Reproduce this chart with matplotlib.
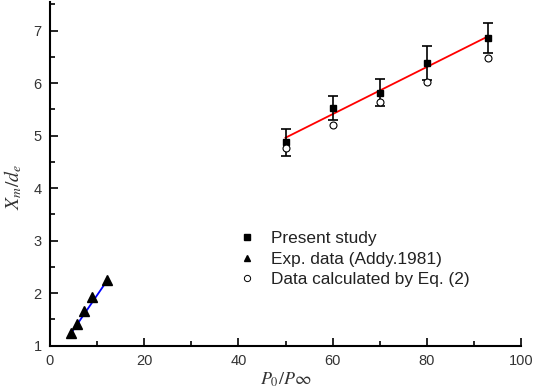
import matplotlib
matplotlib.use("Agg")
import matplotlib.pyplot as plt
from matplotlib.ticker import MultipleLocator
from matplotlib.lines import Line2D

plt.rcParams['font.family'] = ['Liberation Sans', 'DejaVu Sans']
plt.rcParams['mathtext.fontset'] = 'stix'

# Present study
ps_x = [50, 60, 70, 80, 93]
ps_y = [4.87, 5.53, 5.82, 6.38, 6.86]
ps_err = [0.26, 0.23, 0.265, 0.32, 0.28]
# Data calculated by Eq. (2)
eq_x = [50, 60, 70, 80, 93]
eq_y = [4.77, 5.21, 5.64, 6.02, 6.48]
# Exp. data (Addy, 1981)
exp_x = [4.5, 5.8, 7.2, 9.0, 12.2]
exp_y = [1.24, 1.41, 1.66, 1.93, 2.25]
# fit lines
red_x = [50, 93]
red_y = [4.96, 6.89]
blue_x = [4.5, 12.2]
blue_y = [1.24, 2.25]
labels = ['Present study', 'Exp. data (Addy.1981)', 'Data calculated by Eq. (2)']

fig = plt.figure(figsize=(5.33, 3.89), dpi=100)
ax = fig.add_axes([50/533, 43.3/389, 471/533, 344/389])

ax.plot(red_x, red_y, color='red', lw=1.3, zorder=2)
ax.plot(blue_x, blue_y, color='blue', lw=1.3, zorder=2)
ax.errorbar(ps_x, ps_y, yerr=ps_err, fmt='s', color='black', ms=5,
            capsize=3.4, elinewidth=1.2, capthick=1.2, zorder=3)
ax.plot(exp_x, exp_y, '^', color='black', ms=6.5, zorder=3)
ax.plot(eq_x, eq_y, 'o', mfc='white', mec='black', ms=5, mew=0.8, zorder=4)

ax.set_xlim(0, 100)
ax.set_ylim(1, 7.55)
ax.xaxis.set_major_locator(MultipleLocator(20))
ax.xaxis.set_minor_locator(MultipleLocator(10))
ax.yaxis.set_major_locator(MultipleLocator(1))
ax.yaxis.set_minor_locator(MultipleLocator(0.5))
ax.tick_params(which='both', direction='in', width=1.2, colors='black', labelcolor='#333333',
               labelsize=10.5)
ax.tick_params(which='major', length=6, pad=6)
ax.tick_params(which='minor', length=3.5)
ax.spines['top'].set_visible(False)
ax.spines['right'].set_visible(False)
for s in ['left', 'bottom']:
    ax.spines[s].set_linewidth(1.5)

ax.set_xlabel(r'$P_0/P\infty$', fontsize=13, color='#333333', labelpad=2)
ax.set_ylabel(r'$X_m/d_e$', fontsize=14, color='#333333')
ax.yaxis.set_label_coords(-0.056, 0.46)

handles = [
    Line2D([], [], ls='none', marker='s', color='black', ms=4),
    Line2D([], [], ls='none', marker='^', color='black', ms=5),
    Line2D([], [], ls='none', marker='o', mfc='white', mec='black', ms=4.5, mew=0.7),
]
leg = ax.legend(handles, labels, loc='center left', bbox_to_anchor=(0.391, 0.252),
                frameon=False, fontsize=12.4, handletextpad=0.64, labelspacing=0.33,
                handlelength=1.5, borderpad=0, borderaxespad=0, labelcolor='#222222')

fig.savefig('out.png', dpi=100)
